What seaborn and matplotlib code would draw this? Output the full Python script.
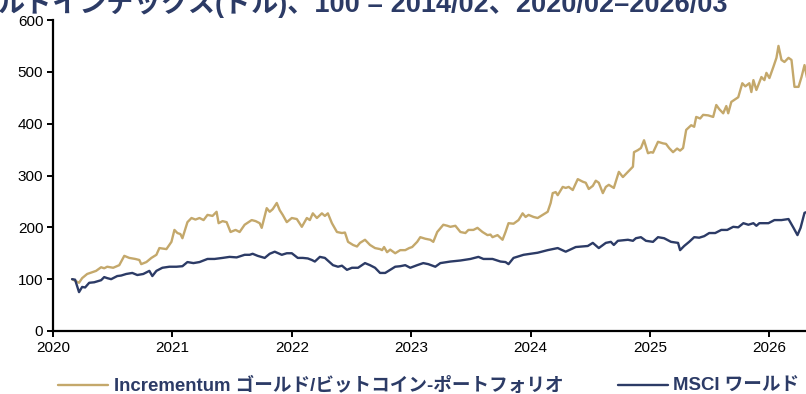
import matplotlib
matplotlib.use("Agg")
import matplotlib.pyplot as plt
import seaborn as sns
import pandas as pd
from matplotlib.lines import Line2D

# ---- data (decimal years, index values) ----
gold_x = [2020.160, 2020.202, 2020.218, 2020.244, 2020.286, 2020.361, 2020.403, 2020.429, 2020.454, 2020.504,
          2020.555, 2020.597, 2020.639, 2020.689, 2020.723, 2020.739, 2020.782, 2020.824, 2020.866, 2020.891,
          2020.950, 2020.992, 2021.017, 2021.042, 2021.067, 2021.084, 2021.126, 2021.160, 2021.193, 2021.227,
          2021.261, 2021.294, 2021.336, 2021.370, 2021.387, 2021.420, 2021.454, 2021.487, 2021.529, 2021.563,
          2021.605, 2021.664, 2021.697, 2021.731, 2021.748, 2021.790, 2021.815, 2021.840, 2021.874, 2021.899,
          2021.924, 2021.958, 2022.000, 2022.042, 2022.084, 2022.126, 2022.151, 2022.176, 2022.210, 2022.252,
          2022.277, 2022.302, 2022.336, 2022.378, 2022.420, 2022.445, 2022.471, 2022.513, 2022.546, 2022.571,
          2022.613, 2022.655, 2022.697, 2022.739, 2022.756, 2022.773, 2022.798, 2022.824, 2022.866, 2022.908,
          2022.950, 2022.983, 2023.008, 2023.050, 2023.076, 2023.118, 2023.160, 2023.185, 2023.218, 2023.269,
          2023.303, 2023.328, 2023.370, 2023.412, 2023.454, 2023.479, 2023.521, 2023.555, 2023.597, 2023.639,
          2023.664, 2023.681, 2023.723, 2023.765, 2023.790, 2023.815, 2023.857, 2023.899, 2023.933, 2023.958,
          2023.983, 2024.025, 2024.059, 2024.101, 2024.143, 2024.168, 2024.185, 2024.210, 2024.227, 2024.269,
          2024.294, 2024.319, 2024.353, 2024.395, 2024.437, 2024.462, 2024.487, 2024.521, 2024.546, 2024.571,
          2024.605, 2024.630, 2024.655, 2024.697, 2024.739, 2024.773, 2024.815, 2024.857, 2024.866, 2024.899,
          2024.924, 2024.950, 2024.983, 2025.008, 2025.025, 2025.067, 2025.109, 2025.134, 2025.160, 2025.193,
          2025.227, 2025.252, 2025.277, 2025.303, 2025.345, 2025.370, 2025.387, 2025.420, 2025.445, 2025.487,
          2025.529, 2025.555, 2025.580, 2025.613, 2025.639, 2025.655, 2025.681, 2025.739, 2025.773, 2025.798,
          2025.832, 2025.849, 2025.866, 2025.891, 2025.933, 2025.958, 2025.975, 2026.000, 2026.034, 2026.059,
          2026.076, 2026.101, 2026.126, 2026.160, 2026.185, 2026.210, 2026.244, 2026.269, 2026.294, 2026.319]
gold_y = [100, 95, 93, 102, 110, 116, 123, 121, 124, 122,
          127, 145, 141, 139, 137, 129, 133, 141, 147, 160,
          158, 172, 195, 189, 187, 179, 210, 218, 215, 218,
          214, 224, 222, 230, 208, 212, 210, 191, 195, 191,
          205, 214, 212, 208, 199, 237, 230, 235, 247, 233,
          224, 210, 218, 216, 201, 218, 214, 227, 218, 227,
          222, 227, 208, 191, 189, 190, 172, 166, 163, 170,
          176, 166, 160, 158, 156, 162, 152, 157, 150, 156,
          156, 160, 162, 172, 181, 178, 176, 172, 191, 205,
          203, 201, 203, 191, 189, 195, 195, 199, 191, 185,
          186, 181, 185, 176, 191, 208, 207, 214, 227, 220,
          224, 220, 218, 224, 230, 247, 266, 268, 262, 278,
          276, 278, 272, 293, 288, 286, 274, 280, 290, 286,
          266, 278, 282, 276, 307, 297, 307, 317, 345, 349,
          353, 368, 343, 345, 344, 365, 362, 361, 353, 345,
          352, 348, 353, 388, 397, 394, 413, 410, 417, 416,
          413, 436, 428, 420, 434, 420, 442, 451, 478, 472,
          478, 461, 484, 465, 490, 484, 498, 488, 510, 527,
          550, 523, 519, 527, 523, 471, 471, 490, 513, 484]

msci_x = [2020.160, 2020.185, 2020.218, 2020.244, 2020.269, 2020.303, 2020.345, 2020.403, 2020.429, 2020.454,
          2020.487, 2020.538, 2020.571, 2020.613, 2020.664, 2020.706, 2020.756, 2020.807, 2020.832, 2020.866,
          2020.916, 2020.975, 2021.034, 2021.084, 2021.126, 2021.176, 2021.227, 2021.294, 2021.353, 2021.420,
          2021.479, 2021.538, 2021.605, 2021.647, 2021.672, 2021.714, 2021.773, 2021.815, 2021.857, 2021.916,
          2021.958, 2022.000, 2022.050, 2022.092, 2022.134, 2022.168, 2022.193, 2022.235, 2022.277, 2022.345,
          2022.387, 2022.420, 2022.462, 2022.504, 2022.555, 2022.613, 2022.655, 2022.697, 2022.739, 2022.782,
          2022.824, 2022.866, 2022.908, 2022.950, 2022.992, 2023.050, 2023.101, 2023.143, 2023.202, 2023.244,
          2023.328, 2023.412, 2023.496, 2023.563, 2023.605, 2023.681, 2023.748, 2023.790, 2023.815, 2023.857,
          2023.941, 2024.000, 2024.059, 2024.143, 2024.227, 2024.294, 2024.378, 2024.479, 2024.521, 2024.571,
          2024.630, 2024.672, 2024.697, 2024.731, 2024.815, 2024.857, 2024.882, 2024.924, 2024.966, 2025.025,
          2025.067, 2025.118, 2025.176, 2025.235, 2025.252, 2025.286, 2025.328, 2025.370, 2025.412, 2025.454,
          2025.496, 2025.546, 2025.597, 2025.647, 2025.697, 2025.739, 2025.782, 2025.824, 2025.866, 2025.891,
          2025.916, 2025.992, 2026.042, 2026.101, 2026.160, 2026.202, 2026.235, 2026.261, 2026.294, 2026.319]
msci_y = [100, 99, 75, 85, 84, 93, 94, 98, 104, 102,
          100, 106, 107, 110, 112, 108, 110, 116, 106, 116,
          122, 124, 124, 125, 133, 131, 133, 139, 139, 141,
          143, 142, 147, 147, 149, 145, 141, 149, 153, 147,
          150, 150, 141, 141, 140, 137, 134, 143, 141, 127,
          124, 126, 118, 122, 122, 131, 127, 122, 112, 112,
          118, 124, 125, 127, 122, 127, 131, 129, 124, 131,
          134, 136, 139, 143, 139, 139, 134, 133, 129, 141,
          147, 149, 151, 156, 160, 153, 162, 164, 170, 160,
          170, 172, 166, 174, 176, 174, 179, 181, 174, 172,
          181, 179, 172, 170, 156, 164, 172, 181, 180, 183,
          189, 189, 195, 195, 201, 200, 208, 205, 208, 203,
          208, 208, 214, 214, 216, 199, 185, 199, 228, 230]

series_names = ["Incrementum ゴールド/ビットコイン-ポートフォリオ", "MSCI ワールド"]
y_ticks = [0, 100, 200, 300, 400, 500, 600]
x_ticks = [2020, 2021, 2022, 2023, 2024, 2025, 2026]
title_text = "ルドインデックス(ドル)、100 = 2014/02、2020/02–2026/03"

df = pd.concat([
    pd.DataFrame({"year": gold_x, "value": gold_y, "series": series_names[0]}),
    pd.DataFrame({"year": msci_x, "value": msci_y, "series": series_names[1]}),
])

sns.set_style("ticks")
plt.rcParams["font.family"] = ["Liberation Sans", "Noto Sans CJK JP", "DejaVu Sans"]

GOLD = "#C4A86B"
NAVY = "#2C3B66"

fig = plt.figure(figsize=(8.06, 3.94), dpi=100)
ax = fig.add_axes([53 / 806, 1 - 331 / 394, 1 - 53 / 806 + 0.002, (331 - 20) / 394])

sns.lineplot(data=df, x="year", y="value", hue="series", hue_order=series_names,
             palette=[GOLD, NAVY], linewidth=1.7, ax=ax, legend=False, estimator=None, sort=False)

ax.set_xlim(2020, 2026.32)
ax.set_ylim(0, 600)
ax.set_xticks(x_ticks)
ax.set_yticks(y_ticks)
ax.set_xlabel("")
ax.set_ylabel("")
for s in ["top", "right"]:
    ax.spines[s].set_visible(False)
for s in ["left", "bottom"]:
    ax.spines[s].set_linewidth(1.6)
    ax.spines[s].set_color("black")
ax.tick_params(axis="both", direction="out", length=4, width=1.4, colors="black",
               labelsize=11, pad=3)

# legend
handles = [Line2D([], [], color=GOLD, linewidth=1.7), Line2D([], [], color=NAVY, linewidth=1.7)]
leg = fig.legend(handles, series_names, loc="center", bbox_to_anchor=(0.532, 1 - 386 / 394),
                 ncol=2, frameon=False, handlelength=2.7, handletextpad=0.3, columnspacing=2.9,
                 prop={"weight": "bold", "size": 13.4})
for t in leg.get_texts():
    t.set_color(NAVY)

fig.text(-0.003, 1 - 12 / 394, title_text, ha="left", va="baseline", fontsize=19.5,
         fontweight="bold", color=NAVY)

fig.savefig("out.png", dpi=100)
